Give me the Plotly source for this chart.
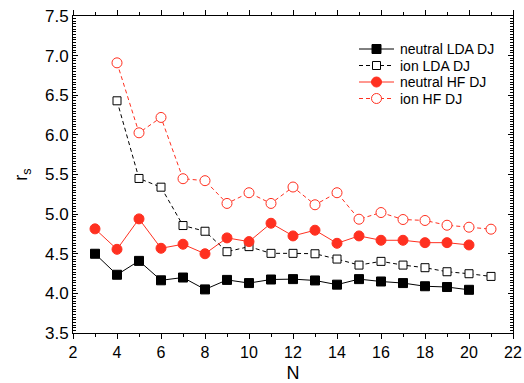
import plotly.graph_objects as go

N_neutral = [3, 4, 5, 6, 7, 8, 9, 10, 11, 12, 13, 14, 15, 16, 17, 18, 19, 20]
N_ion = [4, 5, 6, 7, 8, 9, 10, 11, 12, 13, 14, 15, 16, 17, 18, 19, 20, 21]

neutral_lda = [4.50, 4.235, 4.41, 4.165, 4.20, 4.05, 4.17, 4.13, 4.175, 4.18, 4.163, 4.11,
               4.18, 4.15, 4.13, 4.09, 4.08, 4.045]
ion_lda = [6.43, 5.45, 5.34, 4.856, 4.784, 4.526, 4.59, 4.505, 4.505, 4.50, 4.433, 4.357,
           4.404, 4.357, 4.324, 4.273, 4.248, 4.214]
neutral_hf = [4.814, 4.556, 4.94, 4.569, 4.62, 4.50, 4.70, 4.653, 4.885, 4.725, 4.797, 4.632,
              4.725, 4.67, 4.67, 4.64, 4.64, 4.611]
ion_hf = [6.909, 6.026, 6.22, 5.447, 5.422, 5.135, 5.27, 5.135, 5.342, 5.118, 5.27, 4.936,
          5.02, 4.932, 4.92, 4.86, 4.835, 4.81]

series_names = ["neutral LDA DJ", "ion LDA DJ", "neutral HF DJ", "ion HF DJ"]

RED = "rgb(255,48,32)"
FONT = "Liberation Sans, Arial, sans-serif"
DASH = "4px,3px"

W, H = 524, 383
ML, MR, MT, MB = 73, 11, 16, 50
PW, PH = W - ML - MR, H - MT - MB

styles = [
    dict(color="black", dash="solid", symbol="square", fill="black", size=9),
    dict(color="black", dash=DASH, symbol="square", fill="white", size=8),
    dict(color=RED, dash="solid", symbol="circle", fill=RED, size=10),
    dict(color=RED, dash=DASH, symbol="circle", fill="white", size=10),
]
data = [(N_neutral, neutral_lda), (N_ion, ion_lda), (N_neutral, neutral_hf), (N_ion, ion_hf)]

fig = go.Figure()
for (xs, ys), name, st in zip(data, series_names, styles):
    fig.add_trace(go.Scatter(
        x=xs, y=ys, name=name, mode="lines+markers",
        line=dict(color=st["color"], width=1, dash=st["dash"]),
        marker=dict(symbol=st["symbol"], size=st["size"], color=st["fill"],
                    line=dict(color=st["color"], width=1)),
        showlegend=False))

# manual legend (pixel layout converted to paper coordinates)
shapes = []
annotations = []
row_y = [49, 65.5, 82, 98.5]
for py, name, st in zip(row_y, series_names, styles):
    yp = (H - MB - py) / PH
    x0 = (359 - ML) / PW
    x1 = (394 - ML) / PW
    xc = (376.5 - ML) / PW
    shapes.append(dict(type="line", xref="paper", yref="paper", x0=x0, x1=x1, y0=yp, y1=yp,
                       line=dict(color=st["color"], width=1, dash=st["dash"])))
    hs = st["size"] / 2
    shapes.append(dict(type="rect" if st["symbol"] == "square" else "circle",
                       xref="paper", yref="paper",
                       x0=xc - hs / PW, x1=xc + hs / PW, y0=yp - hs / PH, y1=yp + hs / PH,
                       fillcolor=st["fill"], line=dict(color=st["color"], width=1)))
    annotations.append(dict(text=name, xref="paper", yref="paper", x=(398 - ML) / PW, y=yp,
                            xanchor="left", yanchor="middle", showarrow=False,
                            font=dict(size=14, family=FONT, color="black")))

fig.update_layout(
    width=W, height=H,
    margin=dict(l=ML, r=MR, t=MT, b=MB),
    plot_bgcolor="white", paper_bgcolor="white",
    font=dict(family=FONT, size=16, color="black"),
    showlegend=False,
    shapes=shapes, annotations=annotations,
    xaxis=dict(range=[2, 22], tick0=2, dtick=2, showgrid=False, zeroline=False, automargin=False,
               showline=True, linecolor="black", linewidth=1, mirror="allticks",
               ticks="outside", ticklen=5, tickwidth=1, tickcolor="black",
               minor=dict(dtick=1, tick0=2, ticks="outside", ticklen=3, tickcolor="black", showgrid=False),
               tickfont=dict(size=16),
               title=dict(text="N", font=dict(size=18), standoff=9)),
    yaxis=dict(range=[3.5, 7.5], tick0=3.5, dtick=0.5, tickformat=".1f", showgrid=False, zeroline=False,
               automargin=False,
               showline=True, linecolor="black", linewidth=1, mirror="allticks",
               ticks="inside", ticklen=5, tickwidth=1, tickcolor="black",
               minor=dict(dtick=0.5 / 15, tick0=3.5, ticks="inside", ticklen=3, tickcolor="black", showgrid=False),
               tickfont=dict(size=17),
               title=dict(text="r<sub>s</sub>", font=dict(size=18), standoff=12)),
)

fig.write_html("out.html")
